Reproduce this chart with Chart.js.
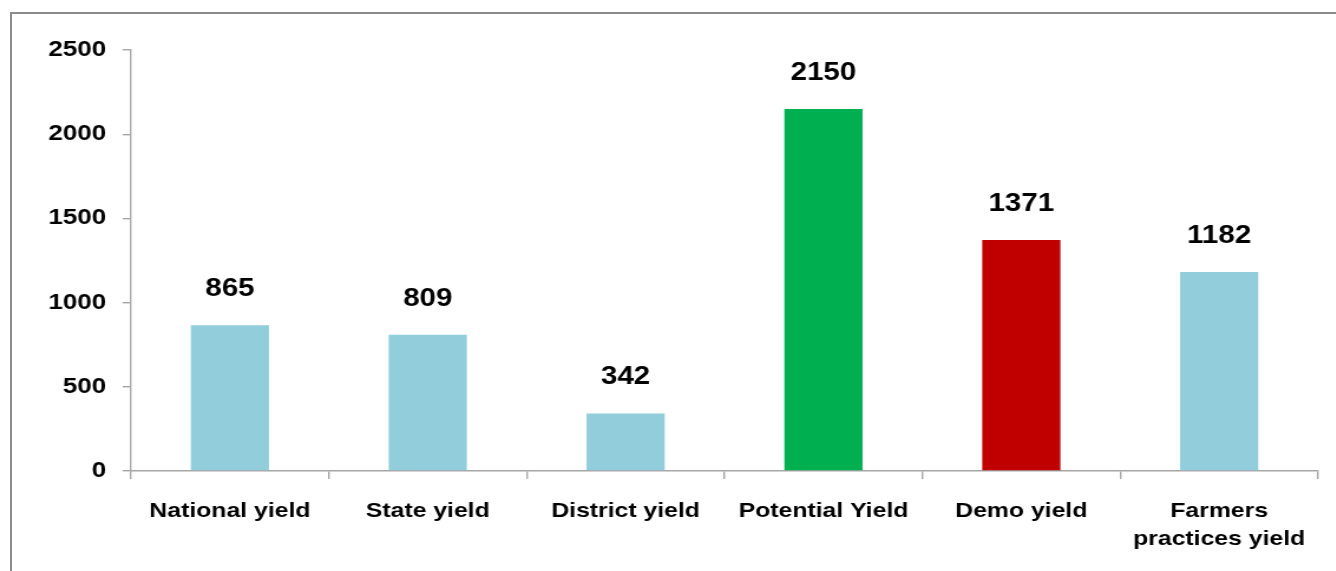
<!DOCTYPE html>
<html>
<head>
<meta charset="utf-8">
<script src="https://cdn.jsdelivr.net/npm/chart.js@4"></script>
<style>
  html, body { margin: 0; padding: 0; background: #fff; }
  #wrap { position: relative; width: 1336px; height: 571px; overflow: hidden; }
  #frame { position: absolute; left: 10px; top: 12px; width: 1340px; height: 600px;
           border-top: 2px solid #8c8c8c; border-left: 2px solid #8c8c8c; box-sizing: border-box; }
  /* the reference artwork is stretched horizontally; reproduce that stretch */
  #c { position: absolute; left: 0; top: 0; transform: scaleX(1.18); transform-origin: 0 0; }
</style>
</head>
<body>
<div id="wrap">
  <div id="frame"></div>
  <canvas id="c" width="1132" height="571"></canvas>
</div>
<script>
const categories = ["National yield", "State yield", "District yield", "Potential Yield", "Demo yield", ["Farmers", "practices yield"]];
const yieldValues = [865, 809, 342, 2150, 1371, 1182];
const barColors = ["#92CDDC", "#92CDDC", "#92CDDC", "#00B050", "#C00000", "#92CDDC"];
const yTicks = [0, 500, 1000, 1500, 2000, 2500];

const FONT = '"Liberation Sans", Arial, sans-serif';

const valueLabels = {
  id: 'valueLabels',
  afterDatasetsDraw(chart) {
    const ctx = chart.ctx;
    const meta = chart.getDatasetMeta(0);
    ctx.save();
    ctx.font = 'bold 25px ' + FONT;
    ctx.fillStyle = '#000';
    ctx.textAlign = 'center';
    ctx.textBaseline = 'middle';
    meta.data.forEach((bar, i) => {
      ctx.fillText(String(yieldValues[i]), bar.x, bar.y - 36);
    });
    ctx.restore();
  }
};

new Chart(document.getElementById('c'), {
  type: 'bar',
  data: {
    labels: categories,
    datasets: [{
      data: yieldValues,
      backgroundColor: barColors,
      borderWidth: 0,
      barPercentage: 0.395,
      categoryPercentage: 1.0
    }]
  },
  options: {
    responsive: false,
    animation: false,
    devicePixelRatio: 1,
    layout: { padding: { left: 0, right: 15, top: 50, bottom: 0 } },
    plugins: { legend: { display: false }, tooltip: { enabled: false } },
    scales: {
      y: {
        min: 0, max: 2500,
        afterBuildTicks(scale) { scale.ticks = yTicks.map(v => ({ value: v })); },
        afterFit(scale) { scale.width = 111; },
        border: { color: '#a6a6a6', width: 1.4 },
        grid: { drawOnChartArea: false, drawTicks: true, tickLength: 7, color: '#a6a6a6', lineWidth: 1.4 },
        ticks: { padding: 14, color: '#000', callback: v => String(v),
                 font: { family: FONT, size: 22, weight: 'bold' } }
      },
      x: {
        afterFit(scale) { scale.height = 100; },
        border: { color: '#a6a6a6', width: 1.5 },
        grid: { drawOnChartArea: false, drawTicks: true, tickLength: 8, color: '#a6a6a6', lineWidth: 1.4, offset: true },
        ticks: { padding: 18, color: '#000', maxRotation: 0, autoSkip: false,
                 font: { family: FONT, size: 21, weight: 'bold', lineHeight: 1.35 } }
      }
    }
  },
  plugins: [valueLabels]
});
</script>
</body>
</html>
